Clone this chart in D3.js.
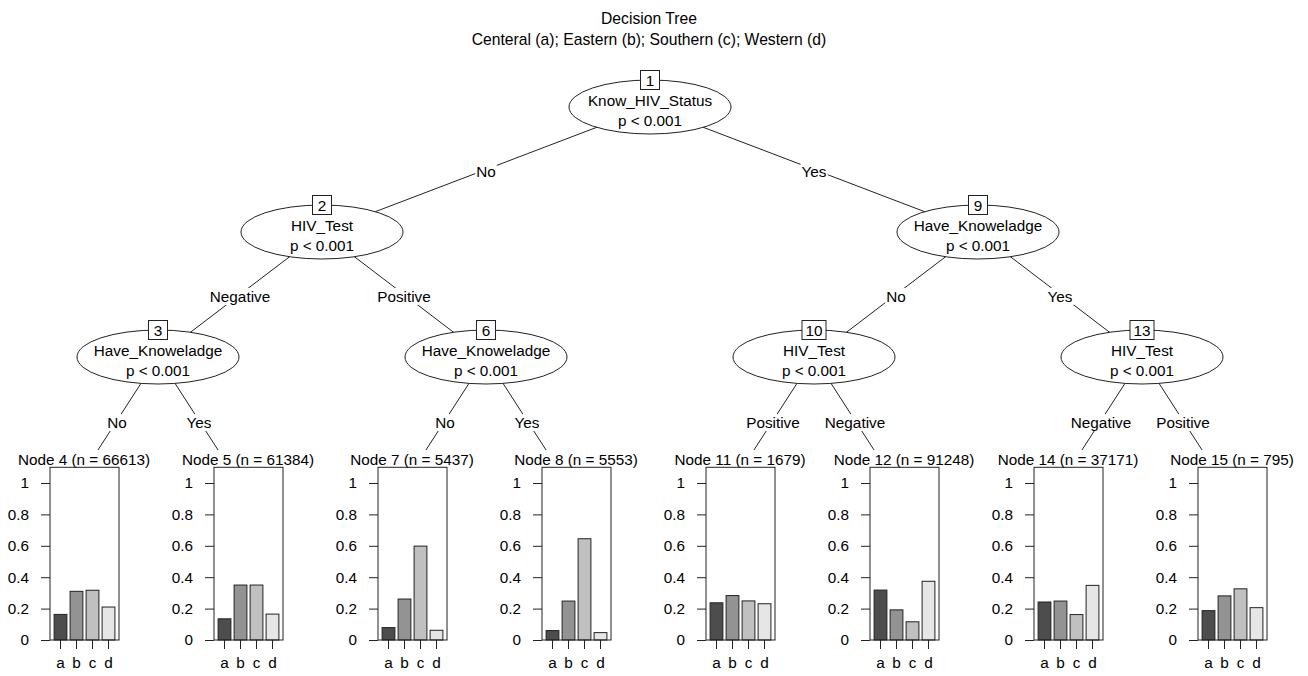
<!DOCTYPE html>
<html>
<head>
<meta charset="utf-8">
<script src="https://cdn.jsdelivr.net/npm/d3@7"></script>
<style>
  body { margin: 0; background: #fff; }
  svg { display: block; font-family: "Liberation Sans", Arial, sans-serif; }
</style>
</head>
<body>
<div id="chart"></div>
<script>
// ---- data ----
const titleText = "Decision Tree";
const subtitleText = "Centeral (a); Eastern (b); Southern (c); Western (d)";

// tree structure: node id, parent id, edge label from parent
const nodeIds     = [1, 2, 3, 4, 5, 6, 7, 8, 9, 10, 11, 12, 13, 14, 15];
const parentIds   = [null, 1, 2, 3, 3, 2, 6, 6, 1, 9, 10, 10, 9, 13, 13];
const edgeLabels  = [null, "No", "Negative", "No", "Yes", "Positive", "No", "Yes",
                     "Yes", "No", "Positive", "Negative", "Yes", "Negative", "Positive"];

// inner (split) nodes
const splitIds  = [1, 2, 3, 6, 9, 10, 13];
const splitVars = ["Know_HIV_Status", "HIV_Test", "Have_Knoweladge", "Have_Knoweladge",
                   "Have_Knoweladge", "HIV_Test", "HIV_Test"];
const splitP    = ["p < 0.001", "p < 0.001", "p < 0.001", "p < 0.001",
                   "p < 0.001", "p < 0.001", "p < 0.001"];

// terminal nodes
const leafIds = [4, 5, 7, 8, 11, 12, 14, 15];
const leafN   = [66613, 61384, 5437, 5553, 1679, 91248, 37171, 795];
const classes = ["a", "b", "c", "d"];
const leafProps = [
  [0.163, 0.310, 0.317, 0.210],
  [0.135, 0.350, 0.350, 0.165],
  [0.079, 0.261, 0.598, 0.062],
  [0.060, 0.248, 0.645, 0.047],
  [0.237, 0.283, 0.249, 0.231],
  [0.318, 0.192, 0.116, 0.374],
  [0.242, 0.248, 0.162, 0.348],
  [0.187, 0.281, 0.326, 0.206]
];
const yTicks = [0, 0.2, 0.4, 0.6, 0.8, 1];

// ---- layout ----
const W = 1308, H = 676;
const fontSize = 15.3;
const lineColor = "#222";
const barFills = ["#4d4d4d", "#939393", "#c0c0c0", "#e6e6e6"];

const svg = d3.select("#chart").append("svg")
  .attr("width", W).attr("height", H)
  .attr("viewBox", `0 0 ${W} ${H}`);

svg.append("rect").attr("width", W).attr("height", H).attr("fill", "#fff");

// title
svg.append("text").attr("x", 649).attr("y", 24).attr("text-anchor", "middle")
  .style("font-size", "15.7px").text(titleText);
svg.append("text").attr("x", 649).attr("y", 45).attr("text-anchor", "middle")
  .style("font-size", "15.7px").text(subtitleText);

// hierarchy
const table = nodeIds.map((id, i) => ({ id: String(id), parent: parentIds[i] == null ? "" : String(parentIds[i]), label: edgeLabels[i] }));
const root = d3.stratify().id(d => d.id).parentId(d => d.parent || null)(table);

// scales for positions
const leafX = d3.scalePoint().domain(leafIds.map(String)).range([76, 1224]);
const depthY = d3.scaleLinear().domain([0, 2]).range([107, 357]);
const leafAnchorY = 484;

root.eachAfter(n => {
  if (!n.children) {
    n.x = leafX(n.id);
    n.y = leafAnchorY;
  } else {
    n.x = d3.mean(n.children, c => c.x);
    n.y = depthY(n.depth);
  }
});

// edges
const links = root.links();
svg.append("g").selectAll("line")
  .data(links).enter().append("line")
  .attr("x1", d => d.source.x).attr("y1", d => d.source.y)
  .attr("x2", d => d.target.x).attr("y2", d => d.target.y)
  .attr("stroke", lineColor).attr("stroke-width", 1);

// edge labels with white background
const labelG = svg.append("g").selectAll("g")
  .data(links).enter().append("g")
  .attr("transform", d => `translate(${(d.source.x + d.target.x) / 2}, ${(d.source.y + d.target.y) / 2 + 2})`);
labelG.append("rect").attr("fill", "#fff");
labelG.append("text")
  .attr("text-anchor", "middle").attr("dominant-baseline", "central")
  .style("font-size", fontSize + "px")
  .text(d => d.target.data.label);
labelG.each(function() {
  const bb = d3.select(this).select("text").node().getBBox();
  d3.select(this).select("rect")
    .attr("x", bb.x - 1).attr("y", bb.y).attr("width", bb.width + 2).attr("height", bb.height);
});

// inner nodes
const rx = 81, ry = 27;
const innerG = svg.append("g").selectAll("g")
  .data(root.descendants().filter(n => n.children)).enter().append("g")
  .attr("transform", d => `translate(${d.x}, ${d.y})`);
innerG.append("ellipse").attr("rx", rx).attr("ry", ry)
  .attr("fill", "#fff").attr("stroke", lineColor).attr("stroke-width", 1);
innerG.append("text").attr("y", -6.5).attr("text-anchor", "middle").attr("dominant-baseline", "central")
  .style("font-size", fontSize + "px")
  .text(d => splitVars[splitIds.indexOf(+d.id)]);
innerG.append("text").attr("y", 13.5).attr("text-anchor", "middle").attr("dominant-baseline", "central")
  .style("font-size", fontSize + "px")
  .text(d => splitP[splitIds.indexOf(+d.id)]);
// id box on top of ellipse
innerG.each(function(d) {
  const g = d3.select(this);
  const box = g.append("rect").attr("fill", "#fff").attr("stroke", lineColor).attr("stroke-width", 1);
  const t = g.append("text").attr("y", -ry).attr("text-anchor", "middle").attr("dominant-baseline", "central")
    .style("font-size", fontSize + "px").text(d.id);
  const w = Math.max(19, t.node().getComputedTextLength() + 7);
  box.attr("x", -w / 2).attr("y", -ry - 9.5).attr("width", w).attr("height", 19);
});

// ---- terminal node bar plots ----
const yScale = d3.scaleLinear().domain([0, 1.1]).range([640, 467.3]);

const drawLeaf = (leaf, i) => {
  const ax = leaf.x;
  const boxLeft = ax - 26, boxRight = ax + 43;
  const g = svg.append("g");

  // white background hides the edge end
  g.append("rect").attr("x", ax - 80).attr("y", 450).attr("width", 160).attr("height", H - 450).attr("fill", "#fff");

  g.append("text")
    .attr("x", (boxLeft + boxRight) / 2 - 0.5).attr("y", 465)
    .attr("text-anchor", "middle")
    .style("font-size", fontSize + "px")
    .text(`Node ${leaf.id} (n = ${leafN[i]})`);

  const xBand = d3.scaleBand().domain(classes)
    .range([boxLeft + 2.5, boxRight - 2.5]).paddingInner(0.2).paddingOuter(0.1);

  g.selectAll(".bar").data(leafProps[i]).enter().append("rect")
    .attr("x", (d, j) => xBand(classes[j]))
    .attr("y", d => yScale(d))
    .attr("width", xBand.bandwidth())
    .attr("height", d => yScale(0) - yScale(d))
    .attr("fill", (d, j) => barFills[j])
    .attr("stroke", lineColor).attr("stroke-width", 1);

  g.append("rect")
    .attr("x", boxLeft).attr("y", yScale(1.1))
    .attr("width", boxRight - boxLeft).attr("height", yScale(0) - yScale(1.1))
    .attr("fill", "none").attr("stroke", lineColor).attr("stroke-width", 1);

  const yAx = g.append("g").attr("transform", `translate(${boxLeft}, 0)`)
    .call(d3.axisLeft(yScale).tickValues(yTicks).tickSize(9).tickPadding(12).tickFormat(d => String(d)))
    .attr("color", lineColor);
  yAx.select(".domain").remove();
  yAx.selectAll("text").attr("fill", "#000").style("font-size", fontSize + "px").attr("font-family", null);

  const xAx = g.append("g").attr("transform", `translate(0, ${yScale(0)})`)
    .call(d3.axisBottom(xBand).tickSize(9).tickPadding(8.5))
    .attr("color", lineColor);
  xAx.select(".domain").remove();
  xAx.selectAll("text").attr("fill", "#000").style("font-size", fontSize + "px").attr("font-family", null);
};

root.leaves().forEach(leaf => drawLeaf(leaf, leafIds.indexOf(+leaf.id)));
</script>
</body>
</html>
